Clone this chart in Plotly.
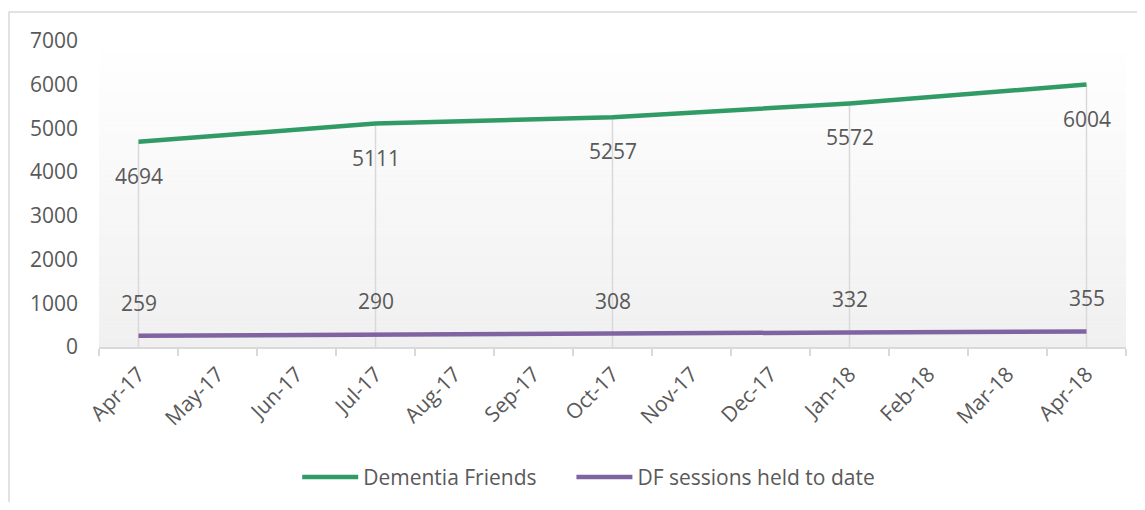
import plotly.graph_objects as go

# ---- data ----
months = ["Apr-17", "May-17", "Jun-17", "Jul-17", "Aug-17", "Sep-17", "Oct-17",
          "Nov-17", "Dec-17", "Jan-18", "Feb-18", "Mar-18", "Apr-18"]
points = ["Apr-17", "Jul-17", "Oct-17", "Jan-18", "Apr-18"]
dementia_friends = [4694, 5111, 5257, 5572, 6004]
df_sessions = [259, 290, 308, 332, 355]
y_ticks = [0, 1000, 2000, 3000, 4000, 5000, 6000, 7000]

GREEN = "#319B66"
PURPLE = "#8064A2"
TXT = "#595959"
FONT = "Open Sans"

fig = go.Figure()

# drop lines (from highest series down to the axis)
fig.add_trace(go.Scatter(
    x=points, y=dementia_friends, mode="markers",
    marker=dict(size=1, opacity=0), showlegend=False, hoverinfo="skip",
    error_y=dict(type="data", symmetric=False,
                 array=[0] * len(dementia_friends), arrayminus=dementia_friends,
                 width=0, color="#D9D9D9", thickness=1.5),
))

fig.add_trace(go.Scatter(
    x=points, y=dementia_friends, mode="lines", name="Dementia Friends",
    line=dict(color=GREEN, width=4.5), legend="legend",
))
fig.add_trace(go.Scatter(
    x=points, y=df_sessions, mode="lines", name="DF sessions held to date",
    line=dict(color=PURPLE, width=4.5), legend="legend2",
))

annotations = []
for x, v in zip(points, dementia_friends):
    annotations.append(dict(x=x, y=v, text=str(v), showarrow=False, yshift=-34,
                            font=dict(family=FONT, size=21, color=TXT)))
for x, v in zip(points, df_sessions):
    annotations.append(dict(x=x, y=v, text=str(v), showarrow=False, yshift=33,
                            font=dict(family=FONT, size=21, color=TXT)))

# gradient plot-area background
shapes = []
N = 60
top = (255, 255, 255)
bot = (240, 240, 240)
for i in range(N):
    t = (i + 0.5) / N
    c = tuple(round(bot[k] + (top[k] - bot[k]) * t) for k in range(3))
    shapes.append(dict(type="rect", xref="paper", yref="paper",
                       x0=0, x1=1, y0=i / N, y1=(i + 1) / N + 0.001,
                       fillcolor="rgb(%d,%d,%d)" % c, line=dict(width=0),
                       layer="below"))
# outer chart border
shapes.append(dict(type="rect", xref="paper", yref="paper",
                   x0=-0.0876, x1=1.03, y0=-0.56, y1=1.095,
                   line=dict(color="#D9D9D9", width=1.5), fillcolor="rgba(0,0,0,0)",
                   layer="below"))

legend_style = dict(orientation="h", xanchor="left", yref="container",
                    y=0.05, yanchor="middle",
                    font=dict(family=FONT, size=21, color=TXT), itemwidth=56,
                    bgcolor="rgba(0,0,0,0)")

fig.update_layout(
    width=1129, height=494,
    margin=dict(l=91, r=11, t=33, b=155, autoexpand=False),
    paper_bgcolor="white", plot_bgcolor="rgba(0,0,0,0)",
    font=dict(family=FONT, color=TXT),
    showlegend=True,
    legend=dict(x=0.193, **legend_style),
    legend2=dict(x=0.460, **legend_style),
    annotations=annotations,
    shapes=shapes,
)
fig.update_xaxes(
    type="category", categoryorder="array", categoryarray=months,
    tickvals=months, ticktext=months,
    range=[-0.5, len(months) - 0.5],
    showgrid=False, zeroline=False,
    showline=True, linecolor="#D9D9D9", linewidth=1.5,
    ticks="outside", tickson="boundaries", ticklen=7, tickcolor="#D9D9D9", tickwidth=1.5,
    tickangle=-45, ticklabelstandoff=5,
    tickfont=dict(family=FONT, size=21, color=TXT),
)
fig.update_yaxes(
    range=[0, 7000], tickvals=y_ticks,
    showgrid=False, zeroline=False, showline=False,
    ticks="", ticklabelstandoff=20,
    tickfont=dict(family=FONT, size=21, color=TXT),
)

fig.write_html("out.html")
